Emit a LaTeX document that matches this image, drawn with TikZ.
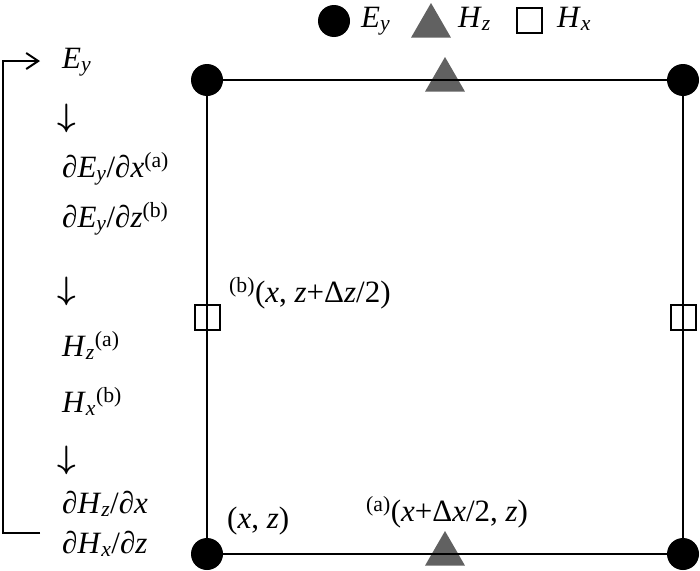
\documentclass[tikz,border=0pt]{standalone}
\usepackage{graphicx}
\usepackage{fontspec}
\setmainfont{Liberation Serif}
\usetikzlibrary{arrows.meta,shapes.geometric}
\newcommand{\fd}[2]{\textit{#1}\textsubscript{\textit{#2}}}
\newcommand{\pd}{∂}
\newcommand{\supl}[1]{\textsuperscript{(#1)}}
\newcommand{\nextstep}{\scalebox{1.3}{\boldmath$\downarrow$}}

\begin{document}
\begin{tikzpicture}[x=1pt,y=-1pt,
  every node/.style={font=\fontsize{31}{36}\selectfont, inner sep=0pt},
  eynode/.style={circle,fill=black,minimum size=32pt},
  hznode/.style={regular polygon,regular polygon sides=3,fill=black!62,minimum size=46pt},
  hxnode/.style={rectangle,draw,line width=2pt,minimum size=25pt},
  txt/.style={anchor=base west}]
  \useasboundingbox (0,0) rectangle (700,570);
  % Legend
  \node[eynode] (legey) at (334,21) {};
  \node[txt] (legeyt) at (361,27) {\fd{E}{y}};
  \node[hznode] (leghz) at (431,26) {};
  \node[txt] (leghzt) at (458,27) {\fd{H}{z}};
  \node[hxnode] (leghx) at (529.5,20.5) {};
  \node[txt] (leghxt) at (557,27) {\fd{H}{x}};
  % Hz on top and bottom edges
  \node[hznode] (hztop) at (445,80) {};
  \node[hznode] (hzbot) at (445,554) {};
  % Ey corners
  \foreach \nm/\x/\y in {nw/207/80,ne/683/80,se/683/554,sw/207/554} {
    \node[eynode] (\nm) at (\x,\y) {};
  }
  \draw[line width=2pt] (nw) -- (ne) -- (se) -- (sw) -- (nw);
  % Hx on left and right edges
  \node[hxnode] (hxleft) at (207,317) {};
  \node[hxnode] (hxright) at (683,317) {};
  % Positions
  \node[txt] (posb) at (229,302) {\supl{b}(\textit{x}, \textit{z}+Δ\textit{z}/2)};
  \node[txt] (poso) at (227,528) {(\textit{x}, \textit{z})};
  \node[txt] (posa) at (366,521) {\supl{a}(\textit{x}+Δ\textit{x}/2, \textit{z})};
  % Update sequence
  \node[txt] (seqey) at (62,68) {\fd{E}{y}};
  \node[txt] (seqd1) at (57,126) {\nextstep};
  \node[txt] (seqdex) at (62,177) {\pd\fd{E}{y}/\pd\textit{x}\supl{a}};
  \node[txt] (seqdez) at (62,227) {\pd\fd{E}{y}/\pd\textit{z}\supl{b}};
  \node[txt] (seqd2) at (57,299) {\nextstep};
  \node[txt] (seqhz) at (62,356) {\fd{H}{z}\supl{a}};
  \node[txt] (seqhx) at (62,412) {\fd{H}{x}\supl{b}};
  \node[txt] (seqd3) at (57,468) {\nextstep};
  \node[txt] (seqdhz) at (62,513) {\pd\fd{H}{z}/\pd\textit{x}};
  \node[txt] (seqdhx) at (62,553) {\pd\fd{H}{x}/\pd\textit{z}};
  % Loop back
  \coordinate (loopfrom) at (40,533);
  \coordinate (loopto) at (40,61);
  \draw[line width=2pt,-{Straight Barb[length=12pt,width=16pt]}] (loopfrom) -- ++(-37,0) |- (loopto);
\end{tikzpicture}
\end{document}
